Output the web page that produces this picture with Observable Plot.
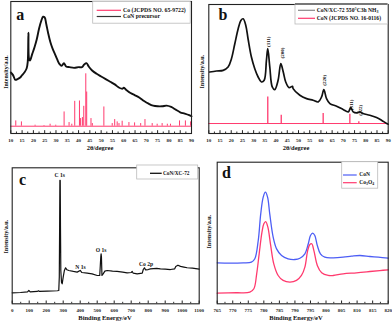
<!DOCTYPE html>
<html><head><meta charset="utf-8">
<script src="https://cdn.jsdelivr.net/npm/d3@7"></script>
<script src="https://cdn.jsdelivr.net/npm/@observablehq/plot@0.6"></script>
<style>
body{margin:0;background:#fff;}
#wrap{position:relative;width:392px;height:325px;overflow:hidden;background:#fff;}
#wrap svg{position:absolute;overflow:visible;}
</style></head><body><div id="wrap"></div>
<script>
// ---------- Panel a: XRD of CoN precursor + Co reference sticks ----------
const aTheta = [10,11,12,13,14,15,16,17,17.5,17.8,18.1,18.5,19.5,20.5,21.5,22.5,23.5,24.3,25,25.7,26.5,27.5,28.5,29.5,30.5,31.5,32.5,33.5,34.5,36,38,40,41.5,42.5,43.5,44.5,46,48,50,52,54,56,58,59.5,60,61,63,65,67,69,71,73,75,77,79,81,83,85,87,89,90];
const aIntensity = [46,44,40.5,41,42,44,46,49,54,76,56,55,60,65,71,79,85,88,87.5,82.5,76,69,64,60,56,52.5,51,53,50.5,50,49.5,50,50,52,53,50.5,47.5,45,43,41,39,37,34.5,33.8,34.5,33,30.5,28.8,27,24.5,22.5,21,20.5,20.5,21,20,18,16,15,13.8,13];
const aStickTheta = [12.2,14.7,20.75,24.7,27.4,29.9,33.6,35.8,37,38.3,40.4,40.9,41.7,42.3,43.2,43.6,45.5,46.1,51.2,54.9,56,57.1,57.9,59.3,62.3,64.8,67.5,69.4,72.6,74.8,77,79.3,80.7,84.7,87.3,89.6];
const aStickTop = [9.5,8.75,6.25,6,7,6.25,16.25,8.25,7,24.25,24.5,11.25,12,20.5,45,31.25,11.25,7.5,20,7.5,10.5,8.75,7.5,9.25,8.25,8,7.5,10.5,7.5,7,7.5,7,7,9.5,9.5,8.75];
const aStickBase = [5.5];

// ---------- Panel b: XRD of CoN/XC-72 + CoN reference sticks ----------
const bTheta = [10.4,13.4,16.4,18.6,20.1,21.6,23.1,24.3,25.3,26.5,27.5,29,30.5,32,33.5,34.7,35.7,36.3,37.2,38.3,39.4,40.9,42.1,43.2,44.3,45.8,47.3,47.6,50.6,53.6,56.5,58.8,60.3,61.3,62.5,64,67,69.9,72.2,73.3,74.4,75.9,77.4,78.8,81.8,84.8,87,89.3,90];
const bIntensity = [46.25,47,47.5,50,56.25,67.5,78.75,85,86.25,81.25,71.25,57.5,48.75,42.5,38.75,40,55,63.75,50,35,33,40,52.5,46.25,38.75,34.5,35.5,33.75,28.75,26.25,25,23.75,27.5,33,26.25,22.5,20.5,18,16.25,19.5,16.25,15.5,16.25,15,13.75,12,10,7.5,7];
const bStickTheta = [36.3,42.3,61,72.9,76.9];
const bStickTop = [27.5,13.75,15,14.5,8.75];
const bStickBase = [7.5];
const bPeakLabels = ["(111)","(200)","(220)","(311)","(222)"];
const bPeakTheta = [36.6,42.9,61.5,73.6,77.8];
const bPeakY = [69,60.5,40,21.5,17.5];

// ---------- Panel c: XPS survey ----------
const cEnergy = [0,49,90,98,106,147,155,160,206,265,274,277,279,280.5,282.5,284,286,290,294,300,307,314,322,333,360,382,400,410,441,470,500,515,521,523,525,528,535,545,559,590,617,650,676,700,706,712,735,765,771,778,784,800,813,850,872,900,931,956,962,975,990,1010,1029,1060,1100];
const cIntensity = [8.1,8.3,8.8,9.8,8.8,9.1,9.6,9.1,9.3,9.6,9.8,19.6,56.4,90.7,90.7,56.4,24.5,15.9,14.7,19.6,24.5,26.5,25,24.5,23.8,23.3,24.5,23,22.5,22,20.8,20.8,34.3,36.8,34.3,20.8,22,24,24.5,24,23.8,23.3,22.8,23,23.8,22.5,22,22.5,25.2,26.5,25,25.2,25.7,26,25.7,25.5,25.2,25.7,27.5,28.4,27.5,27,26.5,26.2,25.5];
const cPeakLabels = ["C 1s","N 1s","O 1s","Co 2p"];
const cPeakEnergy = [280,402,523,788];
const cPeakY = [94.5,27,39.5,29.3];

// ---------- Panel d: Co 2p high resolution ----------
const dEnergyCoN = [765,769.1,773.4,776,777.1,778.2,779,779.8,780.5,781.2,781.9,783,784.1,785.7,787.8,790,791.6,793.2,794.3,795,795.7,796.4,797.2,798.2,799.6,802.3,805.5,808.2,810.9,814.1,816.8,820];
const dIntensityCoN = [28.9,28.7,28.9,29.4,31.8,44.7,63.5,75.3,78.8,75.3,63.5,47.1,38.8,34.1,31.8,31.3,32.2,35.3,42.4,48.2,49.9,48.2,41.2,35.3,32.9,32.5,32.9,33.6,34.1,33.4,32.9,32.2];
const dEnergyCo3O4 = [765,771.2,775.5,776.8,777.7,778.5,779.4,780,780.6,781.3,782.2,783.2,784.6,786.2,788.4,790.5,792.1,793.2,794.1,794.8,795.4,796.1,797.2,798.6,800.7,802.3,805.5,809.8,814.1,817.3,820];
const dIntensityCo3O4 = [7.5,7.8,8.2,10.6,21.2,35.3,50.6,56.5,58.1,54.1,41.2,28.2,20,16.5,15.3,16.5,20,25.9,37.6,41.9,42.4,37.6,27.1,21.9,20,20,21.2,21.9,22.8,23.5,24];

// tick values
const abTicks = d3.range(10, 91, 5);
const abMinor = d3.range(12.5, 90, 5);
const cTicks = d3.range(0, 1101, 100);
const cMinor = d3.range(50, 1100, 100);
const dTicks = d3.range(765, 821, 5);
const dMinor = d3.range(767.5, 820, 5);

const RED = "#ff3a6e", BLUE = "#4d5ef5", BLACK = "#111";
const FONT = "'Liberation Serif','Times New Roman',serif";
const wrap = document.getElementById("wrap");

function pairs(xs, ys) { return xs.map((x, i) => ({x, y: ys[i]})); }

function makePanel(c) {
  const plot = Plot.plot({
    width: c.width, height: c.height,
    marginTop: c.m[0], marginRight: c.m[1], marginBottom: c.m[2], marginLeft: c.m[3],
    x: {domain: c.xDomain, axis: null},
    y: {domain: c.yDomain, axis: null},
    style: {fontFamily: FONT, fontWeight: "bold", background: "transparent", overflow: "visible"},
    marks: [
      ...c.marks,
      Plot.axisX(c.minor, {anchor: "bottom", tickSize: -1.5, tickFormat: () => "", label: null, stroke: "#333"}),
      Plot.axisX(c.ticks, {anchor: "bottom", tickSize: -2.8, tickFormat: () => "", label: null, stroke: "#222"}),
      Plot.axisX(c.ticks, {anchor: "bottom", tickSize: 0, tickPadding: 4.6, fontSize: 5, label: null, fill: "#222", tickFormat: d3.format("d")}),
      Plot.frame({stroke: "#222", strokeWidth: 1.1})
    ]
  });
  plot.style.left = c.left + "px";
  plot.style.top = c.top + "px";
  wrap.appendChild(plot);
  return d3.select(plot);
}

function txt(svg, x, y, s, o = {}) {
  const t = svg.append("text")
    .attr("x", x).attr("y", y)
    .attr("font-family", FONT).attr("font-weight", "bold")
    .attr("font-size", o.size || 6).attr("fill", o.fill || "#111")
    .attr("text-anchor", o.anchor || "start")
    .attr("dominant-baseline", o.base || "middle");
  if (o.rotate) t.attr("transform", `rotate(${o.rotate},${x},${y})`);
  if (Array.isArray(s)) {
    s.forEach(([str, sub]) => {
      const sp = t.append("tspan").text(str);
      if (sub) sp.attr("font-size", (o.size || 6) * 0.7).attr("dy", 1.6);
      else if (t.selectAll("tspan").size() > 1) sp.attr("dy", -1.6);
    });
  } else t.text(s);
  return t;
}
function legendBox(svg, x, y, w, h, opt = {}) {
  svg.append("rect").attr("x", x).attr("y", y).attr("width", w).attr("height", h)
    .attr("fill", "#fff").attr("stroke", opt.stroke || "#bbb").attr("stroke-width", 0.8);
  if (opt.topStroke) svg.append("line").attr("x1", x).attr("x2", x + w).attr("y1", y).attr("y2", y)
    .attr("stroke", opt.topStroke).attr("stroke-width", 1.8);
}
function legendLine(svg, x1, x2, y, color, w = 1.2) {
  svg.append("line").attr("x1", x1).attr("x2", x2).attr("y1", y).attr("y2", y)
    .attr("stroke", color).attr("stroke-width", w);
}

// ---- a ----
const svgA = makePanel({
  left: 0, top: 0, width: 196, height: 160, m: [1, 5, 27, 10.3],
  xDomain: [10, 90], yDomain: [0, 99.5], ticks: abTicks, minor: abMinor,
  marks: [
    Plot.ruleY(aStickBase, {stroke: RED, strokeWidth: 1}),
    Plot.ruleX(pairs(aStickTheta, aStickTop), {x: "x", y1: aStickBase[0], y2: "y", stroke: RED, strokeWidth: 1}),
    Plot.line(pairs(aTheta, aIntensity), {x: "x", y: "y", stroke: BLACK, strokeWidth: 1.9, curve: "catmull-rom"})
  ]
});
legendBox(svgA, 92.7, 1.2, 97.5, 22);
legendLine(svgA, 96.7, 121, 10.3, RED);
txt(svgA, 123, 10.5, "Co (JCPDS NO. 65-9722)", {size: 5.8});
legendLine(svgA, 96.7, 121, 16.5, "#333");
txt(svgA, 123, 16.7, "CoN precursor", {size: 5.8});
txt(svgA, 20.3, 19.5, "a", {size: 16, anchor: "middle", base: "alphabetic"});
txt(svgA, 6.5, 72, "Intensity/a.u.", {size: 6, anchor: "middle", rotate: -90});
txt(svgA, 100, 149, "2θ/degree", {size: 6.5, anchor: "middle"});

// ---- b ----
const svgB = makePanel({
  left: 196, top: 0, width: 196, height: 160, m: [4, 4.3, 27, 12.3],
  xDomain: [10, 90], yDomain: [0, 97], ticks: abTicks, minor: abMinor,
  marks: [
    Plot.ruleY(bStickBase, {stroke: RED, strokeWidth: 1}),
    Plot.ruleX(pairs(bStickTheta, bStickTop), {x: "x", y1: bStickBase[0], y2: "y", stroke: RED, strokeWidth: 1.3}),
    Plot.line(pairs(bTheta, bIntensity), {x: "x", y: "y", stroke: BLACK, strokeWidth: 1.7, curve: "catmull-rom"}),
    Plot.text(bPeakLabels.map((s, i) => ({s, x: bPeakTheta[i], y: bPeakY[i]})), {x: "x", y: "y", text: "s", rotate: -90, fontSize: 5, fill: "#111"})
  ]
});
legendBox(svgB, 99, 4, 92.5, 20, {topStroke: "#777"});
legendLine(svgB, 102, 119, 10.3, "#888");
txt(svgB, 120.7, 10.5, [["CoN/XC-72 550°C3h NH"], ["3", true]], {size: 5.6});
legendLine(svgB, 102, 119, 18.3, RED);
txt(svgB, 120.7, 18.5, "CoN (JCPDS NO. 16-0116)", {size: 5.6});
txt(svgB, 27, 20, "b", {size: 16, anchor: "middle", base: "alphabetic"});
txt(svgB, 6.7, 71.7, "Intensity/a.u.", {size: 6, anchor: "middle", rotate: -90});
txt(svgB, 100, 148.5, "2θ/degree", {size: 6.5, anchor: "middle"});

// ---- c ----
const svgC = makePanel({
  left: 0, top: 160, width: 200, height: 165, m: [7.3, 1.3, 21.7, 11.7],
  xDomain: [0, 1100], yDomain: [0, 100], ticks: cTicks, minor: cMinor,
  marks: [
    Plot.line(pairs(cEnergy, cIntensity), {x: "x", y: "y", stroke: BLACK, strokeWidth: 1.2}),
    Plot.text(cPeakLabels.map((s, i) => ({s, x: cPeakEnergy[i], y: cPeakY[i]})), {x: "x", y: "y", text: "s", fontSize: 5.6, fill: "#111"})
  ]
});
legendBox(svgC, 136.7, 5, 61, 14);
legendLine(svgC, 150, 161.7, 13.3, "#111", 1.3);
txt(svgC, 163, 13.5, "CoN/XC-72", {size: 5.3});
txt(svgC, 22.5, 25, "c", {size: 16, anchor: "middle", base: "alphabetic"});
txt(svgC, 6.7, 76.7, "Intensity/a.u.", {size: 6, anchor: "middle", rotate: -90});
txt(svgC, 105, 158.5, "Binding Energy/eV", {size: 6.5, anchor: "middle"});

// ---- d ----
const svgD = makePanel({
  left: 196, top: 160, width: 196, height: 165, m: [1.7, 4.3, 21.7, 20.7],
  xDomain: [765, 820], yDomain: [0, 100], ticks: dTicks, minor: dMinor,
  marks: [
    Plot.line(pairs(dEnergyCoN, dIntensityCoN), {x: "x", y: "y", stroke: BLUE, strokeWidth: 1.3, curve: "catmull-rom"}),
    Plot.line(pairs(dEnergyCo3O4, dIntensityCo3O4), {x: "x", y: "y", stroke: RED, strokeWidth: 1.3, curve: "catmull-rom"})
  ]
});
legendBox(svgD, 145.7, 1.7, 36, 26.5);
legendLine(svgD, 147, 160.7, 15, BLUE);
txt(svgD, 163.3, 15.2, "CoN", {size: 5.5});
legendLine(svgD, 147, 160.7, 22.7, RED);
txt(svgD, 163.3, 22.5, [["Co"], ["3", true], ["O"], ["4", true]], {size: 5.5});
txt(svgD, 30.5, 18.3, "d", {size: 16, anchor: "middle", base: "alphabetic"});
txt(svgD, 14, 71.7, "Intensity/a.u.", {size: 6, anchor: "middle", rotate: -90});
txt(svgD, 100, 158.5, "Binding Energy/eV", {size: 6.5, anchor: "middle"});
</script>
</body></html>
